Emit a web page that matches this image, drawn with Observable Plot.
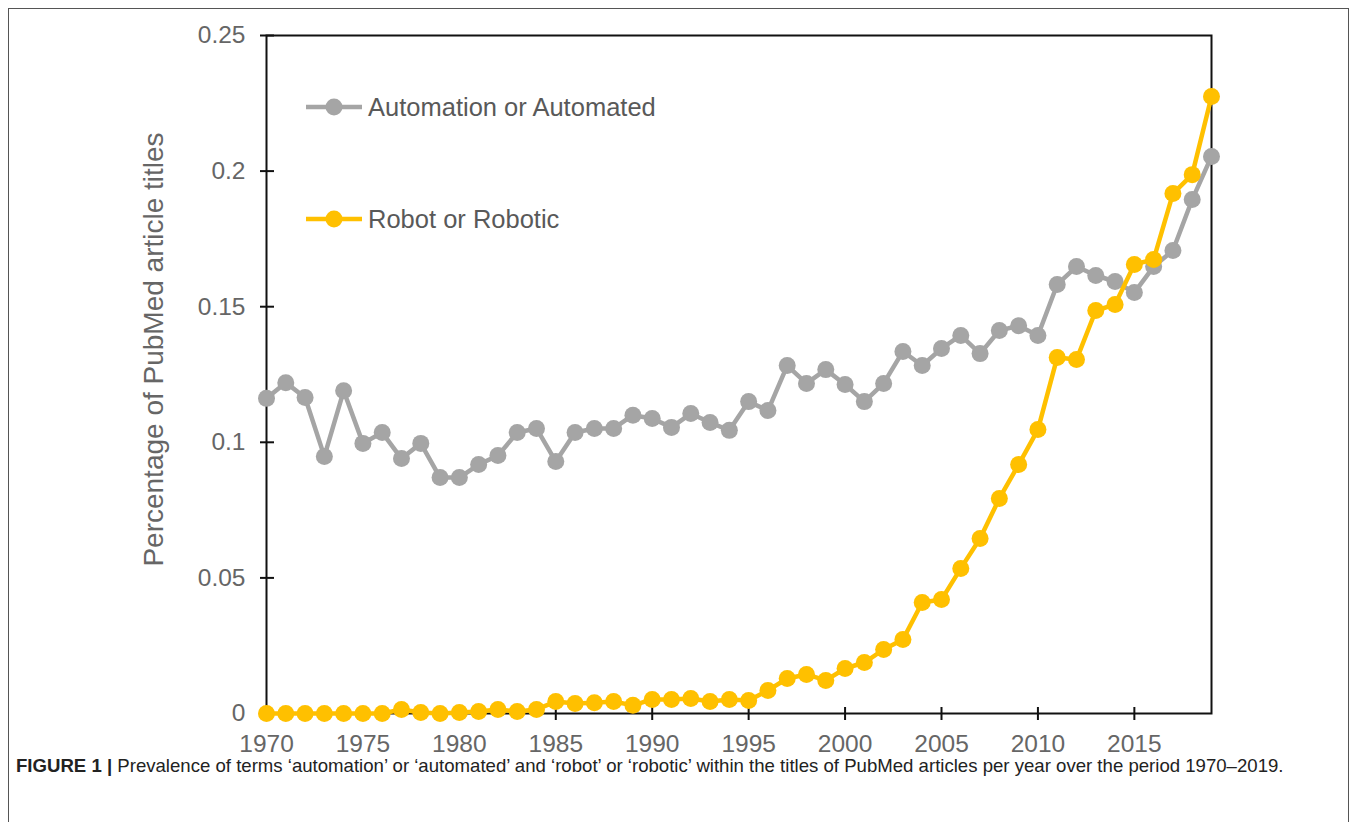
<!DOCTYPE html>
<html>
<head>
<meta charset="utf-8">
<script src="https://cdn.jsdelivr.net/npm/d3@7"></script>
<script src="https://cdn.jsdelivr.net/npm/@observablehq/plot@0.6"></script>
<style>
  html, body { margin: 0; padding: 0; background: #fff; }
  body { width: 1358px; height: 822px; position: relative; overflow: hidden; font-family: "Liberation Sans", Arial, sans-serif; }
  #border { position: absolute; left: 8px; top: 8px; width: 1341px; height: 830px; border: 1.5px solid #555; box-sizing: border-box; }
  #chart { position: absolute; left: 0; top: 0; }
  #legend { position: absolute; left: 0; top: 0; }
  #caption { position: absolute; left: 16px; top: 755px; font-size: 18.6px; line-height: 22px; color: #222; white-space: nowrap; }
  #caption b { font-weight: bold; }
</style>
</head>
<body>
<div id="border"></div>
<div id="chart"></div>
<div id="legend"></div>
<div id="caption"><b>FIGURE 1 |</b> Prevalence of terms  ‘automation’ or ‘automated’ and ‘robot’ or ‘robotic’ within the titles of PubMed articles per year over the period 1970–2019.</div>
<script>
const years = d3.range(1970, 2020);
const automation = [
  0.1162, 0.1220, 0.1165, 0.0948, 0.1190, 0.0996, 0.1036, 0.0940, 0.0996, 0.0870,
  0.0870, 0.0918, 0.0951, 0.1036, 0.1051, 0.0929, 0.1036, 0.1051, 0.1051, 0.1100,
  0.1088, 0.1055, 0.1106, 0.1073, 0.1044, 0.1150, 0.1117, 0.1283, 0.1217, 0.1268,
  0.1213, 0.1150, 0.1217, 0.1335, 0.1283, 0.1346, 0.1394, 0.1327, 0.1412, 0.1430,
  0.1394, 0.1582, 0.1648, 0.1615, 0.1593, 0.1552, 0.1648, 0.1707, 0.1895, 0.2054
];
const robot = [
  0.0000, 0.0000, 0.0000, 0.0000, 0.0000, 0.0000, 0.0000, 0.0015, 0.0004, 0.0000,
  0.0004, 0.0007, 0.0015, 0.0007, 0.0015, 0.0044, 0.0037, 0.0040, 0.0044, 0.0030,
  0.0052, 0.0052, 0.0055, 0.0044, 0.0052, 0.0048, 0.0085, 0.0129, 0.0144, 0.0122,
  0.0166, 0.0188, 0.0236, 0.0273, 0.0409, 0.0420, 0.0535, 0.0645, 0.0793, 0.0918,
  0.1047, 0.1313, 0.1305, 0.1486, 0.1508, 0.1656, 0.1674, 0.1917, 0.1987, 0.2275
];
const seriesNames = ["Automation or Automated", "Robot or Robotic"];
const seriesColors = ["#A5A5A5", "#FFC000"];
const xTicks = [1970, 1975, 1980, 1985, 1990, 1995, 2000, 2005, 2010, 2015];
const yTicks = [0, 0.05, 0.1, 0.15, 0.2, 0.25];
const yTitle = "Percentage of PubMed article titles";

const autoData = years.map((y, i) => ({year: y, value: automation[i]}));
const robotData = years.map((y, i) => ({year: y, value: robot[i]}));

const font = "'Liberation Sans', Arial, sans-serif";
const chart = Plot.plot({
  width: 1358,
  height: 760,
  marginLeft: 266,
  marginRight: 147,
  marginTop: 35,
  marginBottom: 47,
  style: { fontFamily: font, background: "transparent", overflow: "visible" },
  x: { type: "linear", domain: [1970, 2019] },
  y: { domain: [0, 0.25] },
  marks: [
    Plot.frame({ stroke: "#111", strokeWidth: 2 }),
    // tick marks crossing axes
    Plot.axisY(yTicks, { tickSize: 14, dx: 8, tickFormat: () => "", label: null, stroke: "#111", strokeWidth: 2 }),
    Plot.axisX(xTicks, { tickSize: 13, dy: -6, tickFormat: () => "", label: null, stroke: "#111", strokeWidth: 2 }),
    // tick labels
    Plot.axisY(yTicks, { tickSize: 0, tickPadding: 21, tickFormat: d => d === 0 ? "0" : String(d), label: null, fontSize: 24.5, fill: "#666" }),
    Plot.axisX(xTicks, { tickSize: 0, tickPadding: 21, tickFormat: d => String(d), label: null, fontSize: 24.5, fill: "#666" }),
    Plot.text([yTitle], { frameAnchor: "left", textAnchor: "middle", lineAnchor: "middle", dx: -112, dy: -25, rotate: -90, text: d => d, fontSize: 28, fill: "#666" }),
    Plot.line(autoData, { x: "year", y: "value", stroke: seriesColors[0], strokeWidth: 4.5 }),
    Plot.dot(autoData, { x: "year", y: "value", r: 8.5, fill: seriesColors[0], stroke: "none" }),
    Plot.line(robotData, { x: "year", y: "value", stroke: seriesColors[1], strokeWidth: 4.5 }),
    Plot.dot(robotData, { x: "year", y: "value", r: 8.5, fill: seriesColors[1], stroke: "none" })
  ]
});
document.getElementById("chart").appendChild(chart);

// legend
const lg = d3.select("#legend").append("svg").attr("width", 700).attr("height", 260)
  .style("font-family", font);
const legendY = [107, 219];
seriesNames.forEach((name, i) => {
  const g = lg.append("g").attr("transform", `translate(0,${legendY[i]})`);
  g.append("line").attr("x1", 306).attr("x2", 362).attr("y1", 0).attr("y2", 0)
    .attr("stroke", seriesColors[i]).attr("stroke-width", 4.5);
  g.append("circle").attr("cx", 334).attr("cy", 0).attr("r", 8.5).attr("fill", seriesColors[i]);
  g.append("text").attr("x", 368).attr("y", 0).attr("dy", "0.35em")
    .attr("font-size", 25.5).attr("fill", "#595959").text(name);
});
</script>
</body>
</html>
